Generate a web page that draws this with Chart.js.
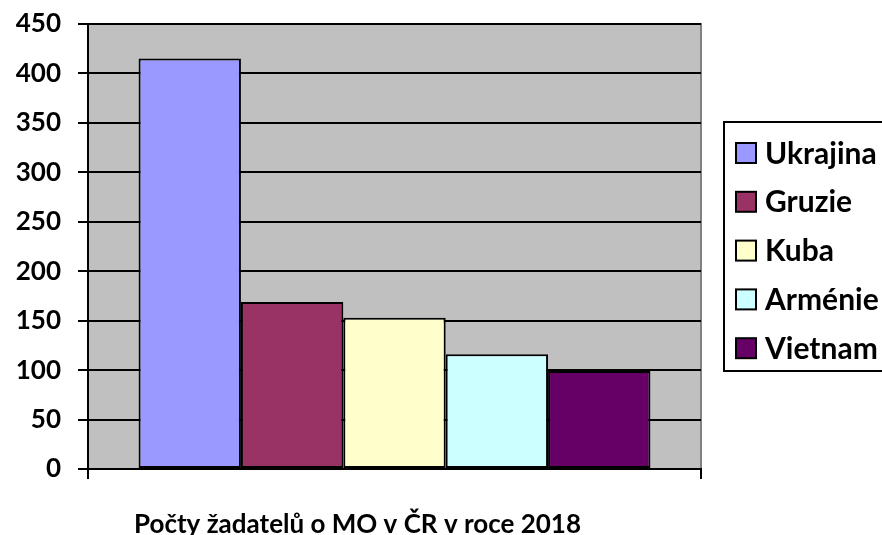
<!DOCTYPE html>
<html>
<head>
<meta charset="utf-8">
<script src="https://cdn.jsdelivr.net/npm/chart.js@4/dist/chart.umd.min.js"></script>
<style>
  html, body { margin: 0; padding: 0; background: #fff; }
  #wrap { width: 882px; height: 535px; }
</style>
</head>
<body>
<div id="wrap"><canvas id="canvas"></canvas></div>
<script>
// data
const categories = ["Počty žadatelů o MO v ČR v roce 2018"];
const countries = ["Ukrajina", "Gruzie", "Kuba", "Arménie", "Vietnam"];
const counts = [415, 169, 153, 116, 99];
const colors = ["#9999FF", "#993366", "#FFFFCC", "#CCFFFF", "#660066"];
const yMin = 0, yMax = 450, yStep = 50;

const FONT = "Lato, 'Open Sans', sans-serif";

// gray plot background + gray frame on top/right
const plotBg = {
  id: "plotBg",
  beforeDraw(chart) {
    const a = chart.chartArea, ctx = chart.ctx;
    ctx.save();
    ctx.fillStyle = "#C0C0C0";
    ctx.fillRect(a.left, a.top, a.right - a.left, a.bottom - a.top);
    ctx.strokeStyle = "#808080";
    ctx.lineWidth = 2;
    ctx.beginPath();
    ctx.moveTo(a.left, a.top);
    ctx.lineTo(a.right, a.top);
    ctx.lineTo(a.right, a.bottom);
    ctx.stroke();
    ctx.restore();
  }
};

// legend box on the right, like the original
const boxLegend = {
  id: "boxLegend",
  afterDraw(chart) {
    const ctx = chart.ctx;
    const x0 = 724, y0 = 122, w = 162, h = 249;
    ctx.save();
    ctx.strokeStyle = "#000";
    ctx.lineWidth = 2;
    ctx.strokeRect(x0, y0, w, h);
    ctx.font = "bold 30px " + FONT;
    ctx.textBaseline = "middle";
    chart.data.datasets.forEach(function (ds, i) {
      const cy = 153 + i * 48.8;
      ctx.fillStyle = ds.backgroundColor;
      ctx.fillRect(736, cy - 10, 20, 20);
      ctx.strokeRect(736, cy - 10, 20, 20);
      ctx.fillStyle = "#000";
      ctx.fillText(ds.label, 765, cy + 1);
    });
    ctx.restore();
  }
};

const datasets = countries.map(function (name, i) {
  return {
    label: name,
    data: [counts[i]],
    backgroundColor: colors[i],
    borderColor: "#000",
    borderWidth: 2,
    borderSkipped: false,
  };
});

const ctx = document.getElementById("canvas").getContext("2d");
const myChart = new Chart(ctx, {
  type: "bar",
  data: { labels: categories, datasets: datasets },
  plugins: [plotBg, boxLegend],
  options: {
    responsive: true,
    maintainAspectRatio: false,
    animation: false,
    layout: { padding: { top: 24, right: 181, left: 0, bottom: 0 } },
    datasets: { bar: { categoryPercentage: 0.835, barPercentage: 1 } },
    plugins: { legend: { display: false }, tooltip: { enabled: false } },
    scales: {
      x: {
        grid: { display: true, drawOnChartArea: false, color: "#000", lineWidth: 2, tickLength: 10, offset: true },
        border: { display: true, color: "#000", width: 2 },
        ticks: { color: "#000", font: { family: FONT, size: 26, weight: "bold" }, padding: 30, maxRotation: 0, labelOffset: -37 },
        afterFit: function (s) { s.height = 66; },
      },
      y: {
        min: yMin,
        max: yMax,
        ticks: { stepSize: yStep, color: "#000", font: { family: FONT, size: 26, weight: "bold" }, padding: 17 },
        grid: { color: "#000", lineWidth: 2, tickLength: 10 },
        border: { display: true, color: "#000", width: 2 },
        afterFit: function (s) { s.width = 88; s.paddingTop = 0; s.paddingBottom = 0; },
      },
    },
  },
});
</script>
</body>
</html>
